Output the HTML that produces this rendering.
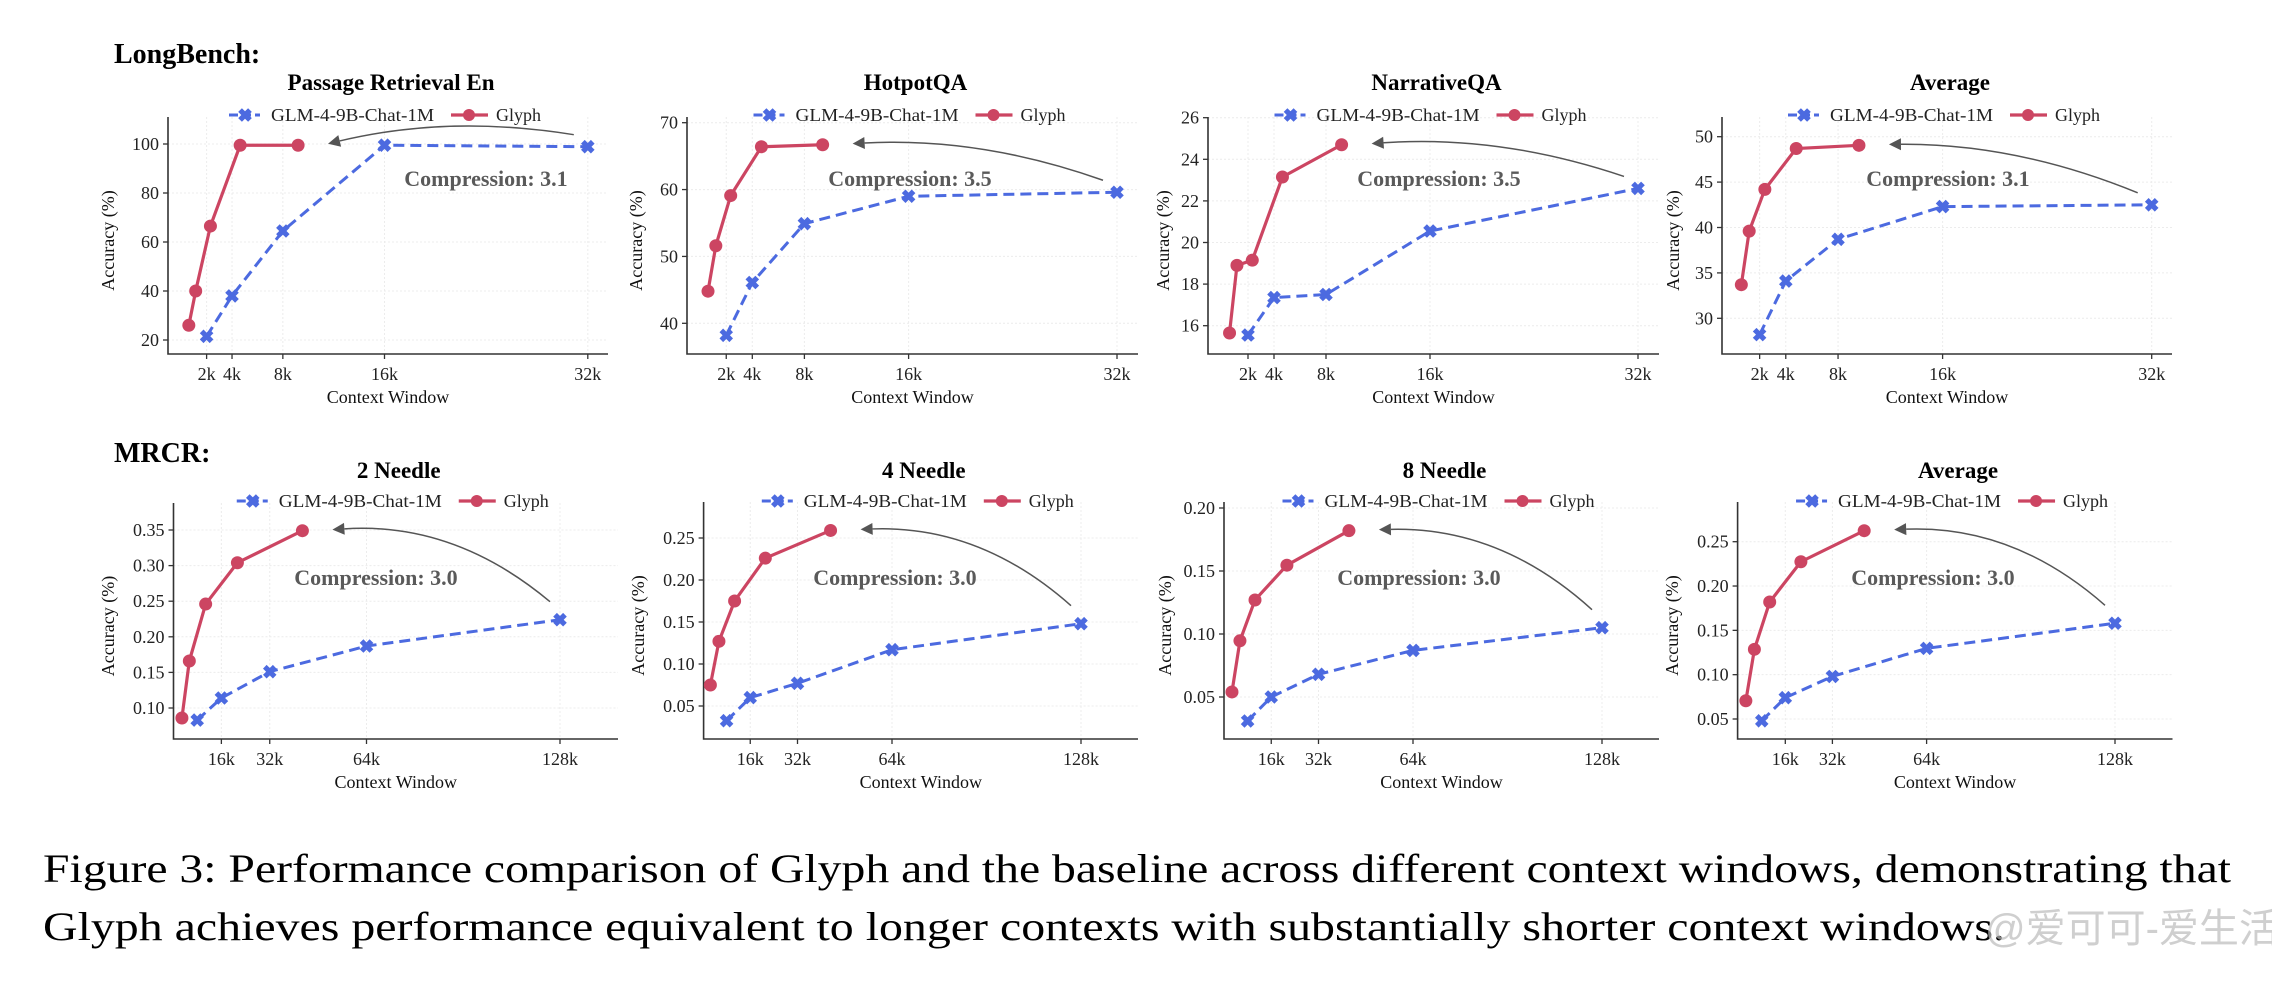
<!DOCTYPE html>
<html><head><meta charset="utf-8">
<style>
html,body{margin:0;padding:0;background:#fff;}
svg{display:block;}
text{font-family:"Liberation Serif","Noto Serif CJK SC",serif;}
</style></head>
<body>
<svg id="fig" width="2272" height="986" viewBox="0 0 2272 986" xmlns="http://www.w3.org/2000/svg">
<text x="114" y="63" font-size="28" font-weight="bold" fill="#000">LongBench:</text>
<text x="114" y="462" font-size="28" font-weight="bold" fill="#000">MRCR:</text>
<text x="43" y="882" font-size="40" fill="#000" textLength="2188" lengthAdjust="spacingAndGlyphs">Figure 3: Performance comparison of Glyph and the baseline across different context windows, demonstrating that</text>
<text x="43" y="940" font-size="40" fill="#000" textLength="1962" lengthAdjust="spacingAndGlyphs">Glyph achieves performance equivalent to longer contexts with substantially shorter context windows.</text>
<text x="1985" y="942" font-size="40" fill="#bbb" fill-opacity="0.7" style="font-family:'Liberation Sans','Noto Sans CJK SC',sans-serif">@爱可可-爱生活</text>
</svg>
<script>
// ---- data ----
const lbGlmX = [2, 4, 8, 16, 32];
const mrGlmX = [8, 16, 32, 64, 128];
const lbTickLabels = ["2k", "4k", "8k", "16k", "32k"];
const lbTickVals = [2, 4, 8, 16, 32];
const mrTickLabels = ["16k", "32k", "64k", "128k"];
const mrTickVals = [16, 32, 64, 128];
const titles = ["Passage Retrieval En", "HotpotQA", "NarrativeQA", "Average", "2 Needle", "4 Needle", "8 Needle", "Average"];
const compressionLabels = ["Compression: 3.1", "Compression: 3.5", "Compression: 3.5", "Compression: 3.1", "Compression: 3.0", "Compression: 3.0", "Compression: 3.0", "Compression: 3.0"];
const glyphX1 = [0.6, 1.14, 2.3, 4.64, 9.2];
const glyphX2 = [0.6, 1.2, 2.34, 4.7, 9.4];
const glyphX3 = [0.58, 1.15, 2.33, 4.65, 9.2];
const glyphX4 = [0.6, 1.2, 2.4, 4.8, 9.6];
const glyphX5 = [2.95, 5.4, 10.8, 21.3, 42.8];
const glyphX6 = [2.5, 5.4, 10.7, 21.1, 43.2];
const glyphX7 = [2.7, 5.4, 10.5, 21.3, 42.3];
const glyphX8 = [2.6, 5.5, 10.7, 21.3, 42.8];
const glmY1 = [21.5, 38, 64.5, 99.5, 98.9];
const glyphY1 = [26, 40, 66.5, 99.5, 99.5];
const glmY2 = [38.2, 46.1, 54.9, 59.0, 59.6];
const glyphY2 = [44.8, 51.6, 59.1, 66.4, 66.7];
const glmY3 = [15.55, 17.35, 17.5, 20.55, 22.6];
const glyphY3 = [15.65, 18.9, 19.15, 23.15, 24.7];
const glmY4 = [28.2, 34.1, 38.7, 42.3, 42.5];
const glyphY4 = [33.7, 39.6, 44.2, 48.7, 49.05];
const glmY5 = [0.083, 0.114, 0.151, 0.187, 0.224];
const glyphY5 = [0.086, 0.166, 0.246, 0.304, 0.349];
const glmY6 = [0.0325, 0.06, 0.077, 0.117, 0.148];
const glyphY6 = [0.075, 0.127, 0.175, 0.226, 0.259];
const glmY7 = [0.031, 0.05, 0.068, 0.087, 0.105];
const glyphY7 = [0.054, 0.0946, 0.127, 0.1546, 0.182];
const glmY8 = [0.048, 0.074, 0.098, 0.1297, 0.158];
const glyphY8 = [0.0706, 0.1286, 0.182, 0.2274, 0.2624];
const yTicks1 = [20, 40, 60, 80, 100];
const yTicks2 = [40, 50, 60, 70];
const yTicks3 = [16, 18, 20, 22, 24, 26];
const yTicks4 = [30, 35, 40, 45, 50];
const yTicks5 = [0.10, 0.15, 0.20, 0.25, 0.30, 0.35];
const yTicks6 = [0.05, 0.10, 0.15, 0.20, 0.25];
const yTicks7 = [0.05, 0.10, 0.15, 0.20];
const yTicks8 = [0.05, 0.10, 0.15, 0.20, 0.25];

// ---- layout (pixel geometry only) ----
const layouts = [
 {L:168,R:608,T:117,B:354,xa:[16,384.5,32,587.8],ya:[20,340,100,144],yl:108,row:0},
 {L:687,R:1138,T:117,B:354,xa:[16,908.6,32,1117],ya:[40,323.3,70,122.7],yl:636,row:0},
 {L:1208,R:1659,T:117,B:354,xa:[16,1430,32,1638],ya:[16,325.7,26,117.7],yl:1163,row:0},
 {L:1722,R:2172,T:117,B:354,xa:[16,1942.6,32,2151.7],ya:[30,318.3,50,136.7],yl:1673,row:0},
 {L:173.5,R:618,T:503,B:739,xa:[64,366.5,128,560],ya:[0.10,708,0.35,530],yl:108,row:1},
 {L:703.6,R:1138,T:502,B:739,xa:[64,892,128,1081],ya:[0.05,706,0.25,538],yl:638,row:1},
 {L:1224,R:1659,T:502,B:739,xa:[64,1413,128,1602],ya:[0.05,697,0.20,508],yl:1165,row:1},
 {L:1737.6,R:2172.5,T:502,B:739,xa:[64,1926.6,128,2115],ya:[0.05,719,0.25,541.7],yl:1672,row:1}
];
const glyphXs=[glyphX1,glyphX2,glyphX3,glyphX4,glyphX5,glyphX6,glyphX7,glyphX8];
const glmYs=[glmY1,glmY2,glmY3,glmY4,glmY5,glmY6,glmY7,glmY8];
const glyphYs=[glyphY1,glyphY2,glyphY3,glyphY4,glyphY5,glyphY6,glyphY7,glyphY8];
const yTicksAll=[yTicks1,yTicks2,yTicks3,yTicks4,yTicks5,yTicks6,yTicks7,yTicks8];

const NS="http://www.w3.org/2000/svg";
const svg=document.getElementById('fig');
const BLUE="#4c6ae0", RED="#cc4562", AX="#333";
function mk(tag,attrs,parent){const e=document.createElementNS(NS,tag);for(const k in attrs)e.setAttribute(k,attrs[k]);(parent||svg).appendChild(e);return e;}
function xMarker(cx,cy,parent){
  const s=7,t=2.6,pts=[[-t,-s],[t,-s],[t,-t],[s,-t],[s,t],[t,t],[t,s],[-t,s],[-t,t],[-s,t],[-s,-t],[-t,-t]];
  const c=Math.SQRT1_2;
  const p=pts.map(([x,y])=>((cx+(x-y)*c).toFixed(1)+','+(cy+(x+y)*c).toFixed(1))).join(' ');
  return mk('polygon',{points:p,fill:BLUE},parent);
}
function fmt(v,dec){return dec?v.toFixed(2):String(v);}

layouts.forEach((lay,i)=>{
  const g=mk('g',{});
  
  
  const xs=v=>lay.xa[1]+(v-lay.xa[0])*(lay.xa[3]-lay.xa[1])/(lay.xa[2]-lay.xa[0]);
  const ys=v=>lay.ya[1]+(v-lay.ya[0])*(lay.ya[3]-lay.ya[1])/(lay.ya[2]-lay.ya[0]);
  const cx=(lay.L+lay.R)/2;
  const dec=lay.row===1;
  const tickVals=dec?mrTickVals:lbTickVals, tickLabs=dec?mrTickLabels:lbTickLabels;
  yTicksAll[i].forEach(v=>{const y=ys(v);const l=mk('line',{x1:lay.L,x2:lay.R,y1:y,y2:y,stroke:'#ececec','stroke-width':1,'stroke-dasharray':'2,2'},g);
    
    });
  tickVals.forEach(v=>{const x=xs(v);const l=mk('line',{x1:x,x2:x,y1:lay.T,y2:lay.B,stroke:'#ececec','stroke-width':1,'stroke-dasharray':'2,2'},g);
    
    });
  const sp=mk('path',{d:`M${lay.L},${lay.T}V${lay.B}H${lay.R}`,fill:'none',stroke:AX,'stroke-width':1.6},g);
  
  
  yTicksAll[i].forEach(v=>{const y=ys(v);
    mk('line',{x1:lay.L-5,x2:lay.L,y1:y,y2:y,stroke:AX,'stroke-width':1.3},g);
    const t=mk('text',{x:lay.L-9,y:y+6,'font-size':18,'text-anchor':'end',fill:'#222'},g);t.textContent=fmt(v,dec);
    
    });
  tickVals.forEach((v,k)=>{const x=xs(v);
    mk('line',{x1:x,x2:x,y1:lay.B,y2:lay.B+5,stroke:AX,'stroke-width':1.3},g);
    const t=mk('text',{x:x,y:lay.B+26,'font-size':18,'text-anchor':'middle',fill:'#222'},g);t.textContent=tickLabs[k];
    
    });
  const xt=mk('text',{x:cx,y:lay.B+49,'font-size':18,'text-anchor':'middle',fill:'#111'},g);xt.textContent='Context Window';
  
  
  const ymid=(lay.T+lay.B)/2+5;
  const yt=mk('text',{x:0,y:0,'font-size':18,'text-anchor':'middle',fill:'#111',transform:`translate(${lay.yl+6},${ymid}) rotate(-90)`},g);yt.textContent='Accuracy (%)';
  
  
  const titleY=lay.row===0?90:478;
  const tt=mk('text',{x:cx+3,y:titleY,'font-size':23,'font-weight':'bold','text-anchor':'middle',fill:'#000'},g);tt.textContent=titles[i];
  
  
  const ly=lay.row===0?115:501;
  const lg=mk('g',{},g);
  
  
  mk('line',{x1:cx-159,x2:cx-128,y1:ly,y2:ly,stroke:BLUE,'stroke-width':3,'stroke-dasharray':'9,4'},lg);
  xMarker(cx-143,ly,lg);
  const l1=mk('text',{x:cx-117,y:ly+6,'font-size':18,fill:'#222',textLength:163,lengthAdjust:'spacingAndGlyphs'},lg);l1.textContent='GLM-4-9B-Chat-1M';
  
  
  mk('line',{x1:cx+63,x2:cx+100,y1:ly,y2:ly,stroke:RED,'stroke-width':3.2},lg);
  mk('circle',{cx:cx+81,cy:ly,r:6,fill:RED},lg);
  const l2=mk('text',{x:cx+108,y:ly+6,'font-size':18,fill:'#222'},lg);l2.textContent='Glyph';
  
  
  const gx=dec?mrGlmX:lbGlmX;
  const gp=gx.map((v,k)=>[xs(v),ys(glmYs[i][k])]);
  const rp=glyphXs[i].map((v,k)=>[xs(v),ys(glyphYs[i][k])]);
  const bl=mk('polyline',{points:gp.map(p=>p.join(',')).join(' '),fill:'none',stroke:BLUE,'stroke-width':3,'stroke-dasharray':'11,6'},g);
  
  
  gp.forEach(p=>{const m=xMarker(p[0],p[1],g);
    
    });
  const rl=mk('polyline',{points:rp.map(p=>p.join(',')).join(' '),fill:'none',stroke:RED,'stroke-width':3.2},g);
  
  
  rp.forEach(p=>{const c=mk('circle',{cx:p[0],cy:p[1],r:6.5,fill:RED},g);
    
    });
  const gl=gp[gp.length-1], rl2=rp[rp.length-1];
  const sx=gl[0]+(dec?-10:-14), sy=gl[1]+(dec?-18:-12);
  const ex=rl2[0]+28, ey=rl2[1]-1;
  const dx=ex-sx, dy=ey-sy, rad=dec?0.2:0.1;
  const qx=(sx+ex)/2-rad*dy, qy=(sy+ey)/2+rad*dx;
  const tx=ex-qx, ty=ey-qy, tl=Math.hypot(tx,ty), ux=tx/tl, uy=ty/tl;
  const hx=ex-ux*14, hy=ey-uy*14;
  const ar=mk('path',{d:`M${sx},${sy}Q${qx},${qy} ${hx},${hy}`,fill:'none',stroke:'#555','stroke-width':1.5},g);
  
  
  const ah=mk('polygon',{points:`${ex-ux*2},${ey-uy*2} ${hx-uy*6},${hy+ux*6} ${hx+uy*6},${hy-ux*6}`,fill:'#555'},g);
  
  
  const ctY=lay.row===0?178:577;
  const ctX=[486,910,1439,1948,376,895,1419,1933][i];
  const ct=mk('text',{x:ctX,y:ctY+8,'font-size':22,'font-weight':'bold','text-anchor':'middle',fill:'#5a5a5a'},g);ct.textContent=compressionLabels[i];
  
  
});
</script>
</body></html>
